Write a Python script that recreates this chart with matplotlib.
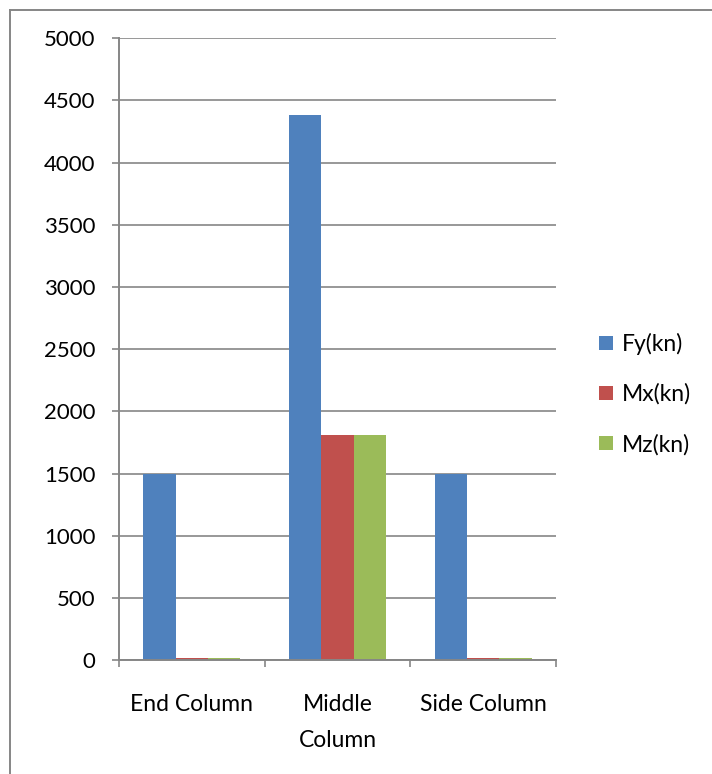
import matplotlib
matplotlib.use("Agg")
import matplotlib.pyplot as plt
from matplotlib.lines import Line2D
import numpy as np

categories = ["End Column", "Middle\nColumn", "Side Column"]
series_names = ["Fy(kn)", "Mx(kn)", "Mz(kn)"]
fy = [1500, 4380, 1500]
mx = [20, 1815, 20]
mz = [20, 1815, 20]
yticks = [0, 500, 1000, 1500, 2000, 2500, 3000, 3500, 4000, 4500, 5000]

colors = ["#4F81BD", "#C0504D", "#9BBB59"]
grid_col = "#868686"
fs = 16.5

plt.rcParams["font.family"] = ["Lato", "DejaVu Sans"]

W, H = 712, 774
fig = plt.figure(figsize=(W / 100, H / 100), dpi=100)
ax = fig.add_axes([119 / W, 1 - 660.3 / H, (556 - 119) / W, (660.3 - 38.3) / H])

x = np.arange(len(categories))
bw = 0.222
for i, (vals, name) in enumerate(zip([fy, mx, mz], series_names)):
    ax.bar(x + (i - 1) * bw, vals, width=bw, color=colors[i], label=name, zorder=3)

ax.set_xlim(-0.5, len(categories) - 0.5)
ax.set_ylim(0, 5000)
ax.set_yticks(yticks)
ax.set_yticklabels([str(v) for v in yticks], fontsize=16)
ax.yaxis.grid(True, color=grid_col, linewidth=1.2, zorder=0)
ax.set_axisbelow(True)

ax.set_xticks(x)
ax.set_xticklabels(categories, fontsize=fs, linespacing=1.9)
ax.set_xticks(np.arange(-0.5, len(categories), 1), minor=True)
ax.tick_params(axis="x", which="major", length=0, pad=24)
ax.tick_params(axis="x", which="minor", length=5, width=1.2, color=grid_col, direction="out")
ax.tick_params(axis="y", length=5, width=1.2, color=grid_col, direction="out", pad=12)

for side in ["top", "right"]:
    ax.spines[side].set_visible(False)
for side in ["left", "bottom"]:
    ax.spines[side].set_color(grid_col)
    ax.spines[side].set_linewidth(1.4)
    ax.spines[side].set_zorder(4)

leg = ax.legend(loc="center left", bbox_to_anchor=(599 / W, 1 - 394 / H),
                bbox_transform=fig.transFigure, frameon=False, fontsize=fs,
                borderpad=0, borderaxespad=0,
                handlelength=0.6, handleheight=0.6, handletextpad=0.4,
                labelspacing=1.25)

# chart area border
fig.add_artist(Line2D([9.5 / W, 9.5 / W], [0, 1 - 9.5 / H], color=grid_col,
                      linewidth=1.4, transform=fig.transFigure))
fig.add_artist(Line2D([9.5 / W, 1], [1 - 9.5 / H, 1 - 9.5 / H], color=grid_col,
                      linewidth=1.4, transform=fig.transFigure))

fig.savefig("out.png", dpi=100)
